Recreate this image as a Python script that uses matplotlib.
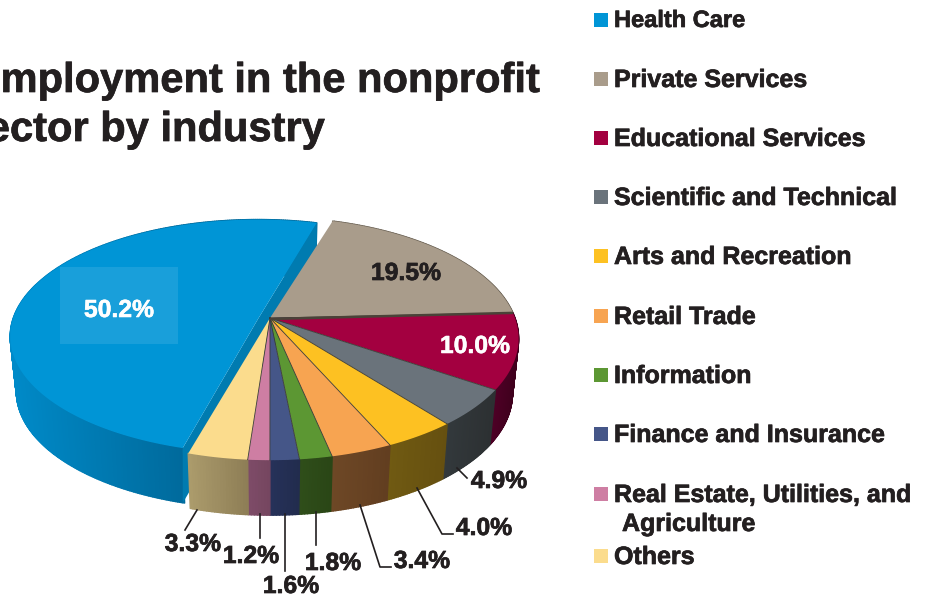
import numpy as np
import matplotlib
matplotlib.use('Agg')
import matplotlib.pyplot as plt
import matplotlib.patheffects as pe
from matplotlib.collections import PolyCollection
from matplotlib.patches import Polygon, Rectangle

industries = ['Health Care', 'Private Services', 'Educational Services', 'Scientific and Technical',
              'Arts and Recreation', 'Retail Trade', 'Information', 'Finance and Insurance',
              'Real Estate, Utilities, and\n Agriculture', 'Others']
shares = [50.2, 19.5, 10.0, 4.9, 4.0, 3.4, 1.8, 1.6, 1.2, 3.3]
top_colors = ['#0095D6', '#A99C8B', '#A30040', '#6A737B', '#FDC122',
              '#F7A451', '#5C9733', '#455688', '#CE7EA3', '#FBDC8D']
wall_left = ['#008AC8', '#6E6558', '#4E0026', '#33393C', '#705A12',
             '#6E4826', '#2F4E1A', '#26325A', '#7E4C68', '#AC9C6C']
wall_right = ['#006A9C', '#6E6558', '#3E001C', '#2C3032', '#665010',
              '#623E20', '#2A4616', '#222C4E', '#764660', '#8E7E56']

legend_y = [20, 79, 138, 197, 256, 316, 375, 434, 494, 556]
label_pos = [(119, 310), (406, 273), (475, 346), (499, 481), (484, 528),
             (422, 561), (333, 563), (291, 586), (251, 556), (193, 544)]
label_color = ['white', '#231F20', 'white'] + ['#231F20'] * 7
leaders = [
    [(457, 468), (467, 478)],
    [(417, 488), (442, 534), (453, 534)],
    [(360, 505), (380, 567), (391, 567)],
    [(316, 512), (316, 545)],
    [(285, 514), (285, 571)],
    [(260, 514), (260, 538)],
    [(197, 510), (185, 530)],
]

INK = '#231F20'
START = 17.3
DEPTH = 55
TAPER = 0.975
plt.rcParams['font.family'] = ['Liberation Sans', 'DejaVu Sans']
heavy = [pe.withStroke(linewidth=0.5, foreground=INK)]
heavy_white = [pe.withStroke(linewidth=0.4, foreground='white')]


def rim(theta, cx=270, cy=318, R=245, Rs=118, p=0.17):
    t = np.radians(theta)
    u, v = np.sin(t), -np.cos(t)
    k = 1 / (1 - p * v)
    return cx + R * u * k, cy + Rs * v * k


def bottom(x, y, cx=270):
    return cx + (np.asarray(x) - cx) * TAPER, np.asarray(y) + DEPTH


def draw_slice(ax, a0, a1, top, wl, wr, z, edge=True, **geo):
    cx, cy = geo.get('cx', 270), geo.get('cy', 318)
    th = np.linspace(a0, a1, max(int(a1 - a0) * 2, 8))
    x, y = rim(th, **geo)
    bx, by = bottom(x, y, cx)
    c0, c1 = np.array(matplotlib.colors.to_rgb(wl)), np.array(matplotlib.colors.to_rgb(wr))
    # side wall shaded in thin strips by x over the front part, left side lighter
    front = x[y > cy] if (y > cy).any() else x
    x0, x1 = front.min(), front.max()
    quads, cols = [], []
    for i in range(len(th) - 1):
        quads.append([(x[i], y[i]), (x[i + 1], y[i + 1]), (bx[i + 1], by[i + 1]), (bx[i], by[i])])
        t = np.clip((x[i] - x0) / max(x1 - x0, 1), 0, 1)
        cols.append(c0 + (c1 - c0) * t)
    ax.add_collection(PolyCollection(quads, facecolors=cols, edgecolors=cols, linewidths=1.0, zorder=z))
    pts = [(cx, cy)] + list(zip(x, y))
    ax.add_patch(Polygon(pts, closed=True, facecolor=top, edgecolor='none', zorder=z + 1))
    if edge:
        ax.plot([cx, x[0]], [cy, y[0]], color='#3A3A34', lw=0.6, zorder=z + 2)


fig = plt.figure(figsize=(9.3, 5.98), dpi=100)
ax = fig.add_axes([0, 0, 1, 1])
ax.set_xlim(0, 930)
ax.set_ylim(598, 0)
ax.axis('off')

angles = START - shares[0] * 3.6 + np.cumsum([0] + [s * 3.6 for s in shares])

# exploded health care slice, it has its own apex and a little less tilt
blue_geo = dict(cx=258, cy=319, R=245, Rs=114.4, p=0.15)
b0, b1 = angles[0] - 1.35, angles[1] - 1.35
bx0, by0 = rim(b0, **blue_geo)
bx1, by1 = rim(b1, **blue_geo)
for ex, ey in [(bx0, by0), (bx1, by1)]:
    ax.add_patch(Polygon([(258, 319), (ex, ey), (ex, ey + DEPTH), (258, 319 + DEPTH)],
                         closed=True, facecolor='#007BB0', edgecolor='none', zorder=2.5))
draw_slice(ax, b0, b1, top_colors[0], wall_left[0], wall_right[0], 2, edge=False, **blue_geo)

for i in range(1, len(shares)):
    draw_slice(ax, angles[i], angles[i + 1], top_colors[i], wall_left[i], wall_right[i], 4, edge=i > 1)

# dark sliver under private services
sx, sy = rim(angles[2])
ax.plot([270, sx], [319, sy], color='#4A4238', lw=1.8, zorder=7, solid_capstyle='butt')

ax.add_patch(Rectangle((60, 267), 118, 77, facecolor='white', alpha=0.1, edgecolor='none', zorder=8))

for (lx, ly), txt, col in zip(label_pos, shares, label_color):
    ax.text(lx, ly, f'{txt:.1f}%', color=col, fontsize=17.8, fontweight='bold',
            ha='center', va='center', zorder=10,
            path_effects=heavy_white if col == 'white' else heavy)
for seg in leaders:
    ax.plot([p[0] for p in seg], [p[1] for p in seg], color=INK, lw=1.2, zorder=9)

for name, col, y in zip(industries, top_colors, legend_y):
    size = 17 if name == 'Health Care' else 18
    base = y + 7 if name == 'Health Care' else y + 8
    ax.add_patch(Rectangle((594, y - 7), 14, 14, facecolor=col, edgecolor='none', zorder=5))
    ax.text(614, base, name.split('\n')[0], color=INK, fontsize=size, fontweight='bold',
            va='baseline', path_effects=heavy)
    if '\n' in name:
        ax.text(616, y + 37, name.split('\n')[1], color=INK, fontsize=size, fontweight='bold',
                va='baseline', path_effects=heavy)

ax.text(540, 92, 'Employment in the nonprofit', color=INK, fontsize=30, fontweight='bold',
        ha='right', va='baseline', path_effects=heavy)
ax.text(325, 141, 'sector by industry', color=INK, fontsize=30, fontweight='bold',
        ha='right', va='baseline', path_effects=heavy)

fig.savefig('out.png', dpi=100)
